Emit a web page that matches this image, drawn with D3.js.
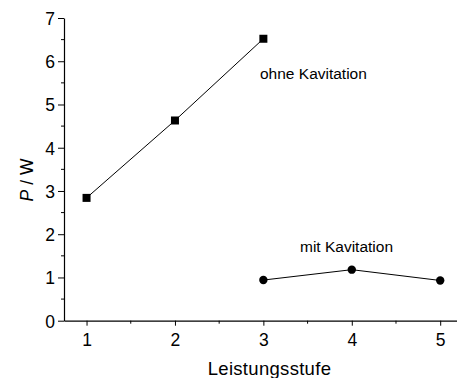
<!DOCTYPE html>
<html>
<head>
<meta charset="utf-8">
<script src="https://cdn.jsdelivr.net/npm/d3@7"></script>
<style>
  body { margin: 0; background: #fff; }
  svg { display: block; font-family: "Liberation Sans", Arial, sans-serif; }
</style>
</head>
<body>
<div id="chart"></div>
<script>
// data
var stufen = [1, 2, 3, 4, 5];
var ohneX = [1, 2, 3];
var ohneP = [2.84, 4.63, 6.52];
var mitX = [3, 4, 5];
var mitP = [0.94, 1.18, 0.93];
var yTicks = [0, 1, 2, 3, 4, 5, 6, 7];

var width = 457, height = 378;

var svg = d3.select("#chart").append("svg")
    .attr("width", width)
    .attr("height", height);

var x = d3.scaleLinear().domain([0.745, 5.19]).range([64, 457]);
var y = d3.scaleLinear().domain([0, 7]).range([320.7, 18]);

// minor ticks first
var xMinor = d3.range(1.5, 5, 1);
svg.append("g").selectAll("line").data(xMinor).enter().append("line")
    .attr("x1", function(d){ return x(d); }).attr("x2", function(d){ return x(d); })
    .attr("y1", y(0)).attr("y2", y(0) + 3)
    .attr("stroke", "#000").attr("stroke-width", 1);
var yMinor = d3.range(0.5, 7, 1);
svg.append("g").selectAll("line").data(yMinor).enter().append("line")
    .attr("x1", x.range()[0] - 3).attr("x2", x.range()[0])
    .attr("y1", function(d){ return y(d); }).attr("y2", function(d){ return y(d); })
    .attr("stroke", "#000").attr("stroke-width", 1);

var xAxis = svg.append("g")
    .attr("transform", "translate(0," + y(0) + ")")
    .call(d3.axisBottom(x).tickValues(stufen).tickFormat(d3.format("d")).tickSize(5).tickSizeOuter(0));
var yAxis = svg.append("g")
    .attr("transform", "translate(" + x.range()[0] + ",0)")
    .call(d3.axisLeft(y).tickValues(yTicks).tickFormat(d3.format("d")).tickSize(6).tickSizeOuter(0));

[xAxis, yAxis].forEach(function(a){
    a.select(".domain").attr("stroke", "#000").attr("stroke-width", 1.2);
    a.selectAll(".tick line").attr("stroke", "#000");
    a.selectAll("text").attr("font-size", 17.5).attr("fill", "#000")
        .attr("font-family", "Liberation Sans, Arial, sans-serif");
});
xAxis.selectAll("text").attr("y", 25).attr("dy", null);
yAxis.selectAll("text").attr("x", -9).attr("dy", "0.36em");

// axis titles
svg.append("text")
    .attr("x", 269.5).attr("y", 375)
    .attr("text-anchor", "middle").attr("font-size", 18.5)
    .attr("letter-spacing", 0.3)
    .text("Leistungsstufe");

var yt = svg.append("text")
    .attr("transform", "translate(33,180) rotate(-90)")
    .attr("text-anchor", "middle").attr("font-size", 17.5);
yt.append("tspan").attr("font-style", "italic").text("P");
yt.append("tspan").text(" / W");

var line = d3.line()
    .x(function(d){ return x(d[0]); })
    .y(function(d){ return y(d[1]); });

var ohne = ohneX.map(function(d, i){ return [d, ohneP[i]]; });
var mit = mitX.map(function(d, i){ return [d, mitP[i]]; });

svg.append("path").datum(ohne).attr("d", line)
    .attr("fill", "none").attr("stroke", "#000").attr("stroke-width", 1);
svg.append("path").datum(mit).attr("d", line)
    .attr("fill", "none").attr("stroke", "#000").attr("stroke-width", 1);

svg.append("g").selectAll("rect").data(ohne).enter().append("rect")
    .attr("x", function(d){ return x(d[0]) - 4; })
    .attr("y", function(d){ return y(d[1]) - 4; })
    .attr("width", 8).attr("height", 8).attr("fill", "#000");

svg.append("g").selectAll("circle").data(mit).enter().append("circle")
    .attr("cx", function(d){ return x(d[0]); })
    .attr("cy", function(d){ return y(d[1]); })
    .attr("r", 4.2).attr("fill", "#000");

svg.append("text").attr("x", 260).attr("y", 79).attr("font-size", 15.5).text("ohne Kavitation");
svg.append("text").attr("x", 300).attr("y", 252).attr("font-size", 15.5).text("mit Kavitation");
</script>
</body>
</html>
